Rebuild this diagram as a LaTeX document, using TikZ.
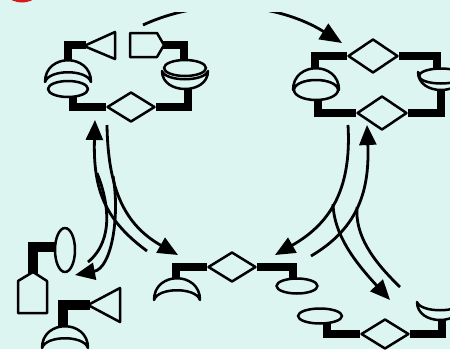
\documentclass[tikz,border=0pt]{standalone}
\usetikzlibrary{arrows.meta, shapes.geometric}
\definecolor{bgc}{RGB}{221,245,241}
\definecolor{badge}{RGB}{215,25,25}
\pgfdeclarelayer{back}
\pgfdeclarelayer{links}
\pgfsetlayers{back,links,main}

\begin{document}
\begin{tikzpicture}[x=1pt, y=-1pt,
  shp/.style={draw, line width=2.5pt, fill=bgc, line join=round},
  dia/.style={shp, diamond, inner sep=0pt, minimum width=48pt, minimum height=30pt},
  oval/.style={shp, ellipse, inner sep=0pt, minimum width=40pt, minimum height=16pt},
  bar/.style={line width=8pt, line join=miter},
  flow/.style={line width=2.8pt, -{Triangle[length=20pt, width=17pt]}},
  tail/.style={line width=2.8pt},
  cap/.pic={\draw[shp] (-23,0) .. controls (-23,-29) and (23,-29) .. (23,0)
    .. controls (19,-13) and (-19,-13) .. cycle;},
  cup/.pic={\draw[shp] (-23,0) .. controls (-23,24) and (23,24) .. (23,0)
    .. controls (19,11) and (-19,11) .. cycle;},
]
\useasboundingbox (0,0) rectangle (450,349);
\begin{pgfonlayer}{back}
  \fill[bgc] (0,0) rectangle (450,349);
  \fill[badge] (22,-21) circle (23.5);
\end{pgfonlayer}

% upper left complex
\pic at (68,82) {cap};
\pic at (185,71) {cup};
\node[dia] (dTL) at (131,107) {};
\node[oval] (oTL1) at (68,89) {};
\node[oval, minimum width=42pt] (oTL2) at (185,68) {};
\draw[shp] (84,46) -- (115,32) -- (115,59) -- cycle;
\draw[shp] (130,33) -- (157,33) -- (164,45) -- (157,57) -- (130,57) -- cycle;

% upper right complex
\pic at (316,90) {cap};
\pic at (441,72) {cup};
\node[dia, minimum width=50pt, minimum height=34pt] (dTR1) at (373,56) {};
\node[dia, minimum width=50pt, minimum height=34pt] (dTR2) at (382,113) {};
\node[oval, minimum width=44pt, minimum height=20pt] (oTR1) at (316,90) {};
\node[oval, minimum width=44pt, minimum height=15pt] (oTR2) at (441,76) {};

% lower middle fragment
\pic at (177,300) {cap};
\node[dia] (dBM) at (232,267) {};
\node[oval, minimum width=41pt, minimum height=15pt] (oBM) at (297,286) {};

% lower right fragment
\pic at (440,302) {cup};
\node[oval, minimum width=44pt, minimum height=15pt] (oBR) at (320,316) {};
\node[dia] (dBR) at (385,334) {};

% lower left pieces
\node[oval, minimum width=20pt, minimum height=44pt] (oBL) at (65,250) {};
\draw[shp] (33,272) -- (47,281) -- (47,313) -- (18,313) -- (18,281) -- cycle;
\draw[shp] (88,305) -- (120,288) -- (120,322) -- cycle;
\pic at (65,348) {cap};

\begin{pgfonlayer}{links}
  \draw[bar] (68,64) |- (86,45);
  \draw[bar] (162,45) -| (184,62);
  \draw[bar] (73,95) |- (dTL);
  \draw[bar] (dTL) -| (188,88);
  \draw[bar] (315,72) |- (dTR1);
  \draw[bar] (dTR1) -| (437,70);
  \draw[bar] (318,98) |- (dTR2);
  \draw[bar] (dTR2) -| (441,88);
  \draw[bar] (176,285) |- (dBM);
  \draw[bar] (dBM) -| (293,282);
  \draw[bar] (327,320) |- (dBR);
  \draw[bar] (dBR) -| (442,315);
  \draw[bar, line width=10pt] (60,247) -| (33,276);
  \draw[bar, line width=10pt] (90,305) -| (63,332);
\end{pgfonlayer}

\begin{scope}
  \clip (0,12.5) rectangle (450,349);
  \draw[flow, -{Triangle[length=22pt, width=18pt]}] (143,25)
    .. controls (208,-5) and (281,5) .. (342,43);
\end{scope}

% left exchange
\draw[flow] (107,125) .. controls (108,190) and (125,225) .. (178,255);
\draw[flow] (113,176) .. controls (120,215) and (112,268) .. (75,275);
\draw[flow] (147,251) .. controls (105,220) and (93,190) .. (95,120);
\draw[tail] (88,262) .. controls (115,240) and (108,200) .. (97,173);

% right exchange
\draw[flow] (348,125) .. controls (352,192) and (328,225) .. (275,255);
\draw[flow] (333,204) .. controls (334,235) and (355,262) .. (390,300);
\draw[flow] (311,256) .. controls (355,230) and (370,195) .. (367,125);
\draw[tail] (400,287) .. controls (372,260) and (355,235) .. (357,207);
\end{tikzpicture}
\end{document}
